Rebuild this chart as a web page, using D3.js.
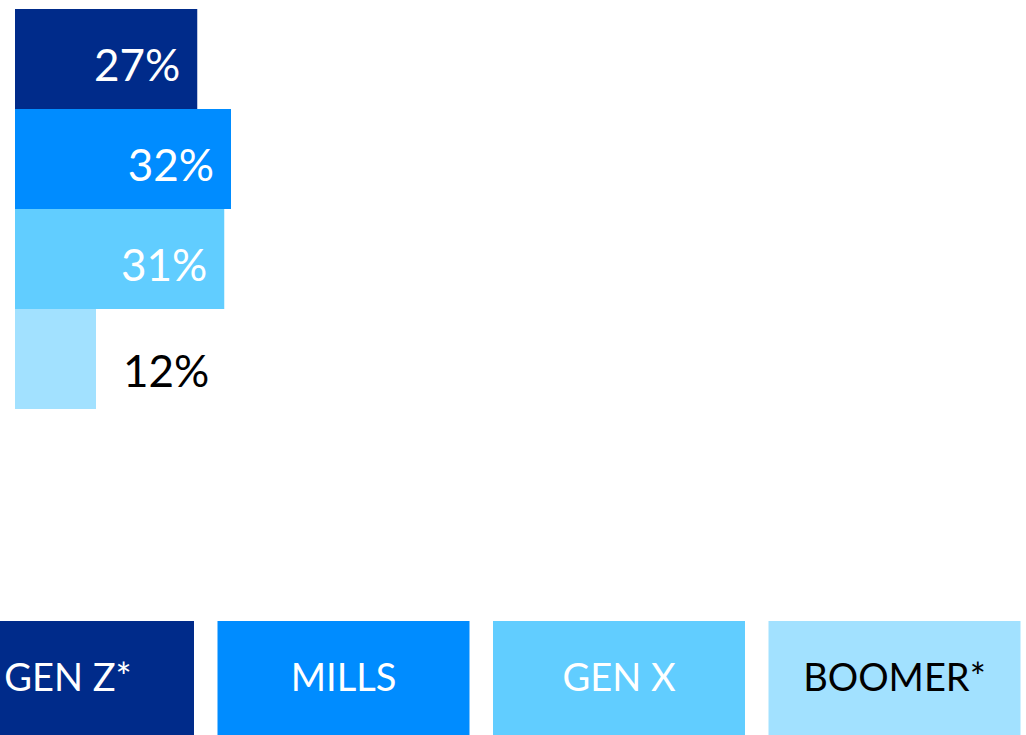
<!DOCTYPE html>
<html>
<head>
<meta charset="utf-8">
<script src="https://cdn.jsdelivr.net/npm/d3@7"></script>
<style>
  html, body { margin: 0; padding: 0; background: #fff; }
  svg { display: block; }
  text { font-family: "Lato", "Noto Sans", sans-serif; }
</style>
</head>
<body>
<svg id="chart" width="1026" height="735"></svg>
<script>
// Share by generation
const generations = ["GEN Z*", "MILLS", "GEN X", "BOOMER*"];
const shares = [27, 32, 31, 12];
const colors = ["#002b8a", "#008cff", "#61cdff", "#a2e1ff"];
const legendTextColors = ["#ffffff", "#ffffff", "#ffffff", "#000000"];

const svg = d3.select("#chart");

const x = d3.scaleLinear().domain([0, 100]).range([15, 690]);
const y = d3.scaleBand().domain(generations).range([9, 409]).padding(0);
const color = d3.scaleOrdinal().domain(generations).range(colors);

const rows = generations.map((g, i) => ({ gen: g, value: shares[i] }));

// Bars
svg.append("g").selectAll("rect")
  .data(rows)
  .join("rect")
  .attr("x", x(0))
  .attr("y", d => y(d.gen))
  .attr("width", d => x(d.value) - x(0))
  .attr("height", y.bandwidth())
  .attr("fill", d => color(d.gen));

// Value labels: inside the bar when it is wide enough, otherwise just past its end
const insideMin = 20;
svg.append("g").selectAll("text")
  .data(rows)
  .join("text")
  .attr("x", d => d.value >= insideMin ? x(d.value) - 17 : x(d.value) + 27)
  .attr("y", d => y(d.gen) + y.bandwidth() / 2 + (d.value >= insideMin ? 5 : 11))
  .attr("text-anchor", d => d.value >= insideMin ? "end" : "start")
  .attr("dominant-baseline", "central")
  .attr("font-size", 44)
  .attr("fill", d => d.value >= insideMin ? "#ffffff" : "#000000")
  .text(d => d.value + "%");

// Legend
const lx = d3.scaleBand().domain(generations).range([-58, 1020.5]).paddingInner(23.5 / 275.5).paddingOuter(0);
const legend = svg.append("g").selectAll("g")
  .data(generations)
  .join("g")
  .attr("transform", d => `translate(${lx(d)},621)`);

legend.append("rect")
  .attr("width", lx.bandwidth())
  .attr("height", 114)
  .attr("fill", d => color(d));

legend.append("text")
  .attr("x", lx.bandwidth() / 2)
  .attr("y", 55)
  .attr("text-anchor", "middle")
  .attr("dominant-baseline", "central")
  .attr("font-size", 38)
  .attr("fill", (d, i) => legendTextColors[i])
  .text(d => d);
</script>
</body>
</html>
